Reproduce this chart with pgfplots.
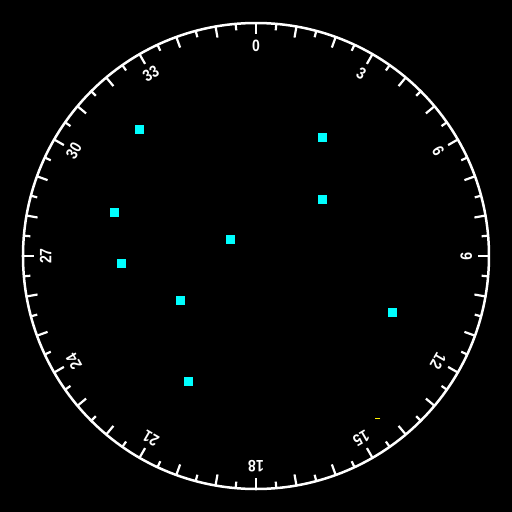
\documentclass[border=0pt]{standalone}
\usepackage{pgfplots}
\pgfplotsset{compat=1.18}
\usepgfplotslibrary{polar}
\usepackage{pgfplotstable}
\usepackage{fontspec}
\setmainfont{Liberation Sans}
\definecolor{aqua}{RGB}{0,255,255}
\pgfplotstableread{
az r
317.4 73.8
29.2 58.3
49.3 37.2
287.2 63.9
302.6 13.0
267.0 58.1
239.4 37.6
112.4 63.0
208.4 61.2
}\pts
\pgfplotstableread{
az r
143.0 87.0
}\smallpts
\begin{document}
\begin{tikzpicture}
\fill[black] (-256bp,-256bp) rectangle (256bp,256bp);
\begin{polaraxis}[
  at={(0,0)}, anchor=origin,
  width=466bp, height=466bp, scale only axis,
  ymin=0, ymax=100, xmin=0, xmax=360,
  xtick=\empty, ytick=\empty,
  xmajorgrids=false, ymajorgrids=false,
  axis y line=none,
  axis line style={white, line width=2.5bp},
  clip=false,
]
\pgfplotsinvokeforeach{0,10,...,350}{\draw[white, line width=2.2bp] (axis cs:#1,100) -- (axis cs:#1,95.2);}
\pgfplotsinvokeforeach{5,15,...,355}{\draw[white, line width=2.2bp] (axis cs:#1,100) -- (axis cs:#1,97.2);}
\pgfplotsinvokeforeach{0,3,...,33}{\node[white, inner sep=0pt, rotate={-#1*10}, xscale=0.85, font=\fontsize{16.5}{16.5}\selectfont\bfseries] at (axis cs:{90-#1*10},90.3) {#1};}
\addplot[only marks, mark=square*, mark size=4bp, color=aqua] table[x expr={90-\thisrow{az}}, y=r] {\pts};
\addplot[only marks, mark=-, mark size=2.5bp, color=yellow] table[x expr={90-\thisrow{az}}, y=r] {\smallpts};
\end{polaraxis}
\end{tikzpicture}
\end{document}
